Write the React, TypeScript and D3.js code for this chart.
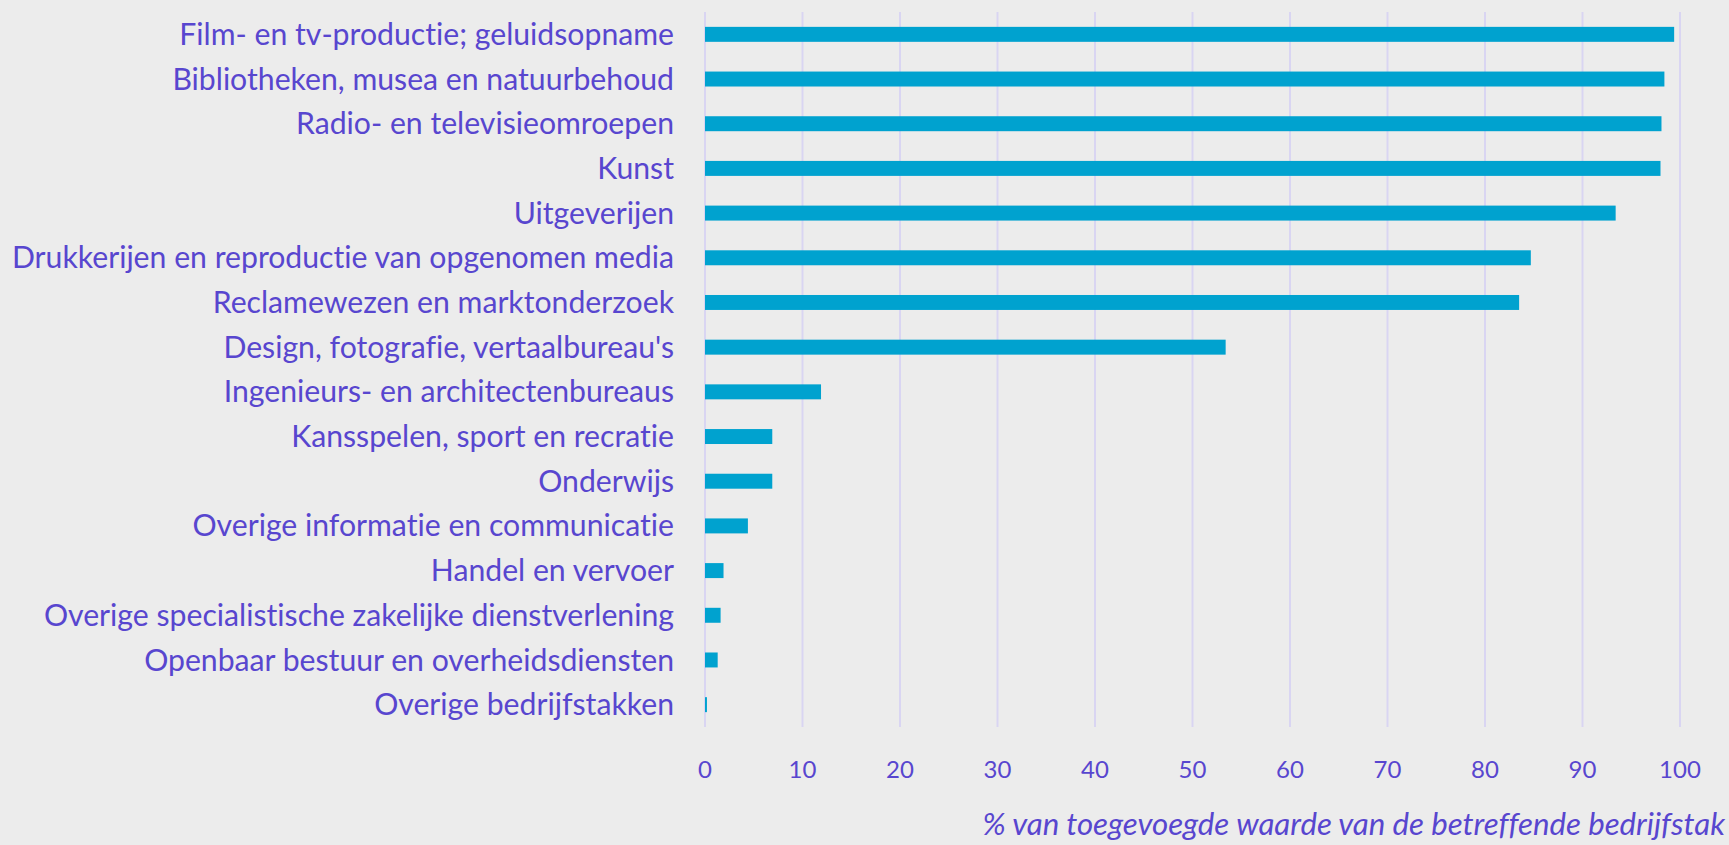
import React from "react";
import * as d3 from "d3";

const categories = [
  "Film- en tv-productie; geluidsopname",
  "Bibliotheken, musea en natuurbehoud",
  "Radio- en televisieomroepen",
  "Kunst",
  "Uitgeverijen",
  "Drukkerijen en reproductie van opgenomen media",
  "Reclamewezen en marktonderzoek",
  "Design, fotografie, vertaalbureau's",
  "Ingenieurs- en architectenbureaus",
  "Kansspelen, sport en recratie",
  "Onderwijs",
  "Overige informatie en communicatie",
  "Handel en vervoer",
  "Overige specialistische zakelijke dienstverlening",
  "Openbaar bestuur en overheidsdiensten",
  "Overige bedrijfstakken",
];

const values = [99.4, 98.4, 98.1, 98.0, 93.4, 84.7, 83.5, 53.4, 11.9, 6.9, 6.9, 4.4, 1.9, 1.6, 1.3, 0.2];

const ticks = [0, 10, 20, 30, 40, 50, 60, 70, 80, 90, 100];

const axisTitle = "% van toegevoegde waarde van de betreffende bedrijfstak";

const W = 1729;
const H = 845;
const BG = "#ececec";
const BAR = "#00a2cf";
const GRID = "#d9d5f2";
const TEXT = "#5846cf";
const FONT = "Lato, 'Open Sans', sans-serif";

export default function App() {
  const x = d3.scaleLinear().domain([0, 100]).range([705, 1680]);
  const y = d3
    .scaleBand<string>()
    .domain(categories)
    .range([12, 727])
    .paddingInner(0.665)
    .paddingOuter(0.3325);

  return (
    <svg
      width={W}
      height={H}
      style={{ position: "absolute", left: 0, top: 0, background: BG, fontVariantLigatures: "none" }}
      fontFamily={FONT}
    >
      <rect x={0} y={0} width={W} height={H} fill={BG} />
      {ticks.map((t) => (
        <line
          key={"g" + t}
          x1={x(t)}
          x2={x(t)}
          y1={12}
          y2={727}
          stroke={GRID}
          strokeWidth={2}
        />
      ))}
      {categories.map((c, i) => (
        <rect
          key={"b" + i}
          x={x(0)}
          y={y(c)}
          width={x(values[i]) - x(0)}
          height={y.bandwidth()}
          fill={BAR}
        />
      ))}
      {categories.map((c) => (
        <text
          key={"l" + c}
          x={674}
          y={(y(c) as number) + y.bandwidth() / 2}
          dy="0.35em"
          textAnchor="end"
          fill={TEXT}
          fontSize={30.2}
        >
          {c}
        </text>
      ))}
      {ticks.map((t) => (
        <text
          key={"t" + t}
          x={x(t)}
          y={770}
          dy="0.35em"
          textAnchor="middle"
          fill={TEXT}
          fontSize={24}
        >
          {t}
        </text>
      ))}
      <text
        x={1725}
        y={824}
        dy="0.35em"
        textAnchor="end"
        fill={TEXT}
        fontSize={31.2}
        fontStyle="italic"
      >
        {axisTitle}
      </text>
    </svg>
  );
}
